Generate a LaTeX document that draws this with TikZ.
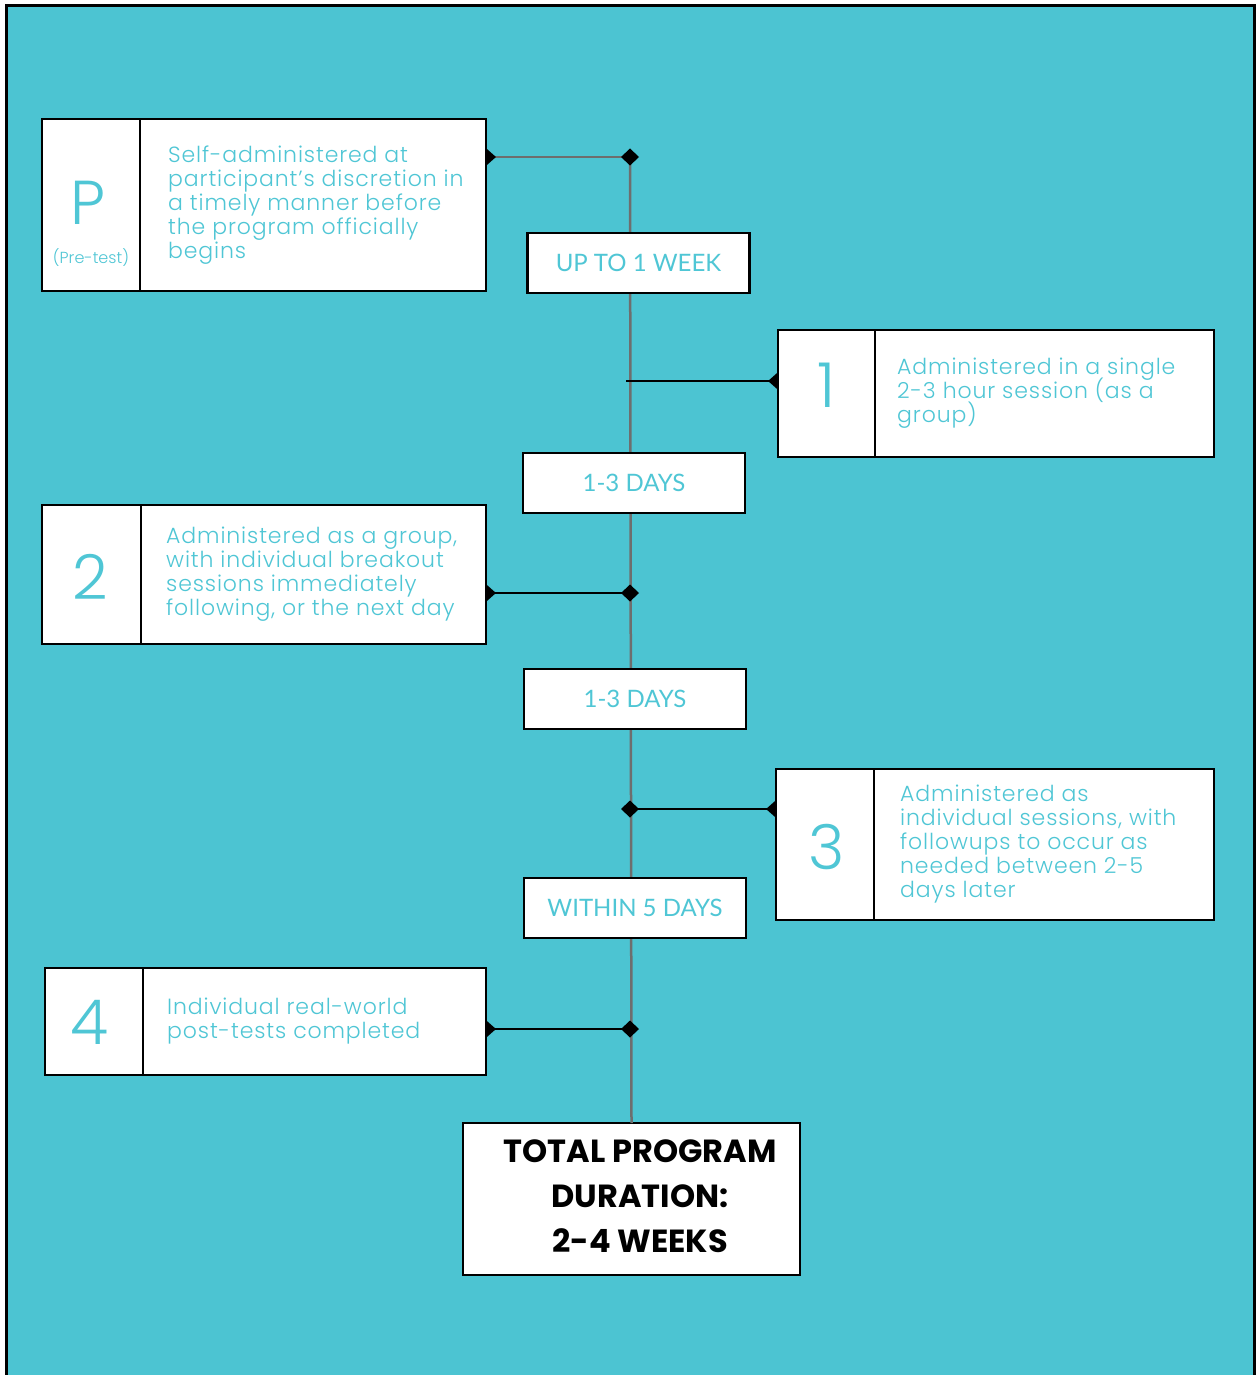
\documentclass[tikz,border=0pt]{standalone}
\usepackage{fontspec}
\setmainfont{Poppins}
\newfontfamily\bodyfont{Poppins Light}[LetterSpace=4]
\newfontfamily\numfont{Poppins Light}
\newfontfamily\tagfont{Lato}
\newfontfamily\heavyfont{Poppins Bold}
\usetikzlibrary{arrows.meta,positioning,calc}
\definecolor{bgteal}{HTML}{4CC4D2}
\definecolor{txtteal}{HTML}{4FC6D5}
\definecolor{linegray}{HTML}{6E6E6E}
\setlength{\lineskiplimit}{-20pt}

\begin{document}
\begin{tikzpicture}[x=1pt,y=-1pt,
	cell/.style={draw=black,line width=2.5pt,fill=white,inner sep=0pt,outer sep=0pt},
	body/.style={font=\bodyfont\fontsize{22}{24}\selectfont,text=txtteal,align=left,anchor=west,inner sep=0pt},
	num/.style={font=\numfont\fontsize{62}{62}\selectfont,text=txtteal,inner sep=0pt},
	tag/.style={cell,minimum width=222pt,minimum height=60pt,font=\tagfont\fontsize{24}{24}\selectfont,text=txtteal},
	link/.style={line width=2.5pt,shorten >=-9pt,
		{Triangle[reversed,length=10pt,width=17pt,color=black]}-{Diamond[length=18pt,width=17pt,color=black]}}
	]
	\useasboundingbox (0,0) rectangle (1255,1375);
	\fill[bgteal] (6,6) rectangle (1254,1375);
	\draw[line width=3pt] (6,1375) -- (6,6) -- (1254,6) -- (1254,1375);
	
	% points on the timeline
	\coordinate (tP) at (630,157);
	\coordinate (t1) at (626,381);
	\coordinate (t2) at (630,593);
	\coordinate (t3) at (630,809);
	\coordinate (t4) at (630,1029);
	
	% pre-test
	\node[cell,minimum width=98pt,minimum height=172pt] (pcell) at (91,205) {};
	\node[cell,right=0pt of pcell,minimum width=346pt,minimum height=172pt] (pbox) {};
	\node[num] (pnum) at (88,203) {P};
	\node[font=\numfont\fontsize{16}{16}\selectfont,text=txtteal] (pnote) at (91,258) {(Pre-test)};
	\node[body] (ptext) at ([xshift=28pt]pbox.west) {Self-administered at\\participant’s discretion in\\a timely manner before\\the program officially\\begins};
	
	% session 1
	\node[cell,minimum width=97pt,minimum height=127pt] (cell1) at (826.5,393.5) {};
	\node[cell,right=0pt of cell1,minimum width=339pt,minimum height=127pt] (box1) {};
	\node[num] (num1) at (827,385) {1};
	\node[body] (text1) at ([xshift=22pt]box1.west) {Administered in a single\\2-3 hour session (as a\\group)};
	
	% session 2
	\node[cell,minimum width=99pt,minimum height=139pt] (cell2) at (91.5,574.5) {};
	\node[cell,right=0pt of cell2,minimum width=345pt,minimum height=139pt] (box2) {};
	\node[num] (num2) at (90,577) {2};
	\node[body] (text2) at ([xshift=25pt]box2.west) {Administered as a group,\\with individual breakout\\sessions immediately\\following, or the next day};
	
	% session 3
	\node[cell,minimum width=98pt,minimum height=151pt] (cell3) at (825,844.5) {};
	\node[cell,right=0pt of cell3,minimum width=340pt,minimum height=151pt] (box3) {};
	\node[num] (num3) at (827,847) {3};
	\node[body] (text3) at ([xshift=26pt]box3.west) {Administered as\\individual sessions, with\\followups to occur as\\needed between 2-5\\days later};
	
	% session 4
	\node[cell,minimum width=98pt,minimum height=107pt] (cell4) at (94,1021.5) {};
	\node[cell,right=0pt of cell4,minimum width=343pt,minimum height=107pt] (box4) {};
	\node[num] (num4) at (90,1022) {4};
	\node[body] (text4) at ([xshift=24pt]box4.west) {Individual real-world\\post-tests completed};
	
	% total
	\node[cell,minimum width=337pt,minimum height=152pt] (total) at (631.5,1199) {};
	\node[font=\heavyfont\fontsize{32}{45}\selectfont,align=center] (totaltext) at (640,1196) {TOTAL PROGRAM\\DURATION:\\2-4 WEEKS};
	
	\draw[linegray,line width=2.5pt] (tP) -- (total.north);
	
	\draw[link,draw=linegray] (pbox.east |- tP) -- (tP);
	\draw[line width=2.5pt,{Triangle[reversed,length=10pt,width=17pt]}-] (cell1.west |- t1) -- (t1);
	\draw[link] (box2.east |- t2) -- (t2);
	\draw[link] (cell3.west |- t3) -- (t3);
	\draw[link] (box4.east |- t4) -- (t4);
	
	% intervals
	\node[tag] (tag1) at (638.5,263) {UP TO 1 WEEK};
	\node[tag] (tag2) at (634,483) {1-3 DAYS};
	\node[tag] (tag3) at (635,699) {1-3 DAYS};
	\node[tag] (tag4) at (635,908) {WITHIN 5 DAYS};
\end{tikzpicture}
\end{document}
